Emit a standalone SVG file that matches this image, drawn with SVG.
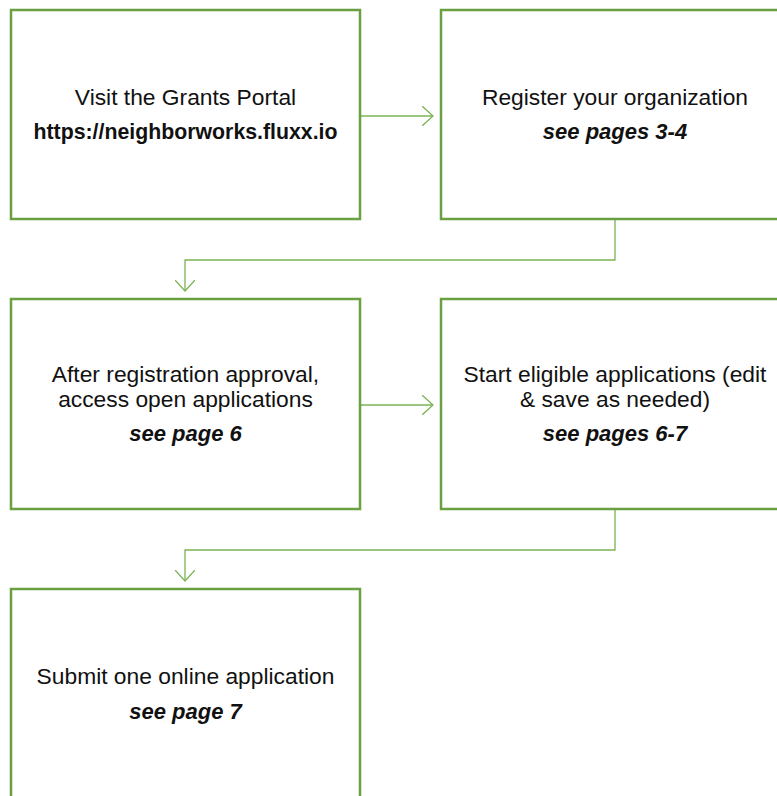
<svg xmlns="http://www.w3.org/2000/svg" width="777" height="796" viewBox="0 0 777 796">
  <defs>
    <style>
      .box { fill: #ffffff; stroke: #6a9f42; stroke-width: 2.5; }
      .link { fill: none; stroke: #7cb356; stroke-width: 1.3; }
      .t { font-family: "Liberation Sans", Arial, sans-serif; font-size: 22.8px; fill: #111111; text-anchor: middle; }
      .url { font-weight: bold; font-size: 21.3px; }
      .ref { font-style: italic; font-weight: bold; font-size: 22px; }
    </style>
    <marker id="open" viewBox="0 0 12 20" refX="11" refY="10" markerWidth="12" markerHeight="20" markerUnits="userSpaceOnUse" orient="auto">
      <path d="M0,0 L11,10 L0,20" fill="none" stroke="#7cb356" stroke-width="1.3"/>
    </marker>
  </defs>

  <g id="connectors">
    <path class="link" d="M361,116 H433" marker-end="url(#open)"/>
    <path class="link" d="M615,220 V260 H185 V291" marker-end="url(#open)"/>
    <path class="link" d="M361,405 H433" marker-end="url(#open)"/>
    <path class="link" d="M615,510 V550 H185 V581" marker-end="url(#open)"/>
  </g>

  <g id="visit-portal">
    <rect class="box" x="11" y="10" width="349" height="209"/>
    <text class="t" x="185.5" y="105">Visit the Grants Portal</text>
    <text class="t url" x="185.5" y="139">https://neighborworks.fluxx.io</text>
  </g>

  <g id="register-org">
    <rect class="box" x="441" y="10" width="349" height="209"/>
    <text class="t" x="615" y="105">Register your organization</text>
    <text class="t ref" x="615" y="139">see pages 3-4</text>
  </g>

  <g id="access-applications">
    <rect class="box" x="11" y="299" width="349" height="210"/>
    <text class="t" x="185.5" y="382">After registration approval,</text>
    <text class="t" x="185.5" y="407">access open applications</text>
    <text class="t ref" x="185.5" y="441">see page 6</text>
  </g>

  <g id="start-applications">
    <rect class="box" x="441" y="299" width="349" height="210"/>
    <text class="t" x="615" y="382">Start eligible applications (edit</text>
    <text class="t" x="615" y="407">&amp; save as needed)</text>
    <text class="t ref" x="615" y="441">see pages 6-7</text>
  </g>

  <g id="submit-application">
    <rect class="box" x="11" y="589" width="349" height="220"/>
    <text class="t" x="185.5" y="684">Submit one online application</text>
    <text class="t ref" x="185.5" y="719">see page 7</text>
  </g>
</svg>
